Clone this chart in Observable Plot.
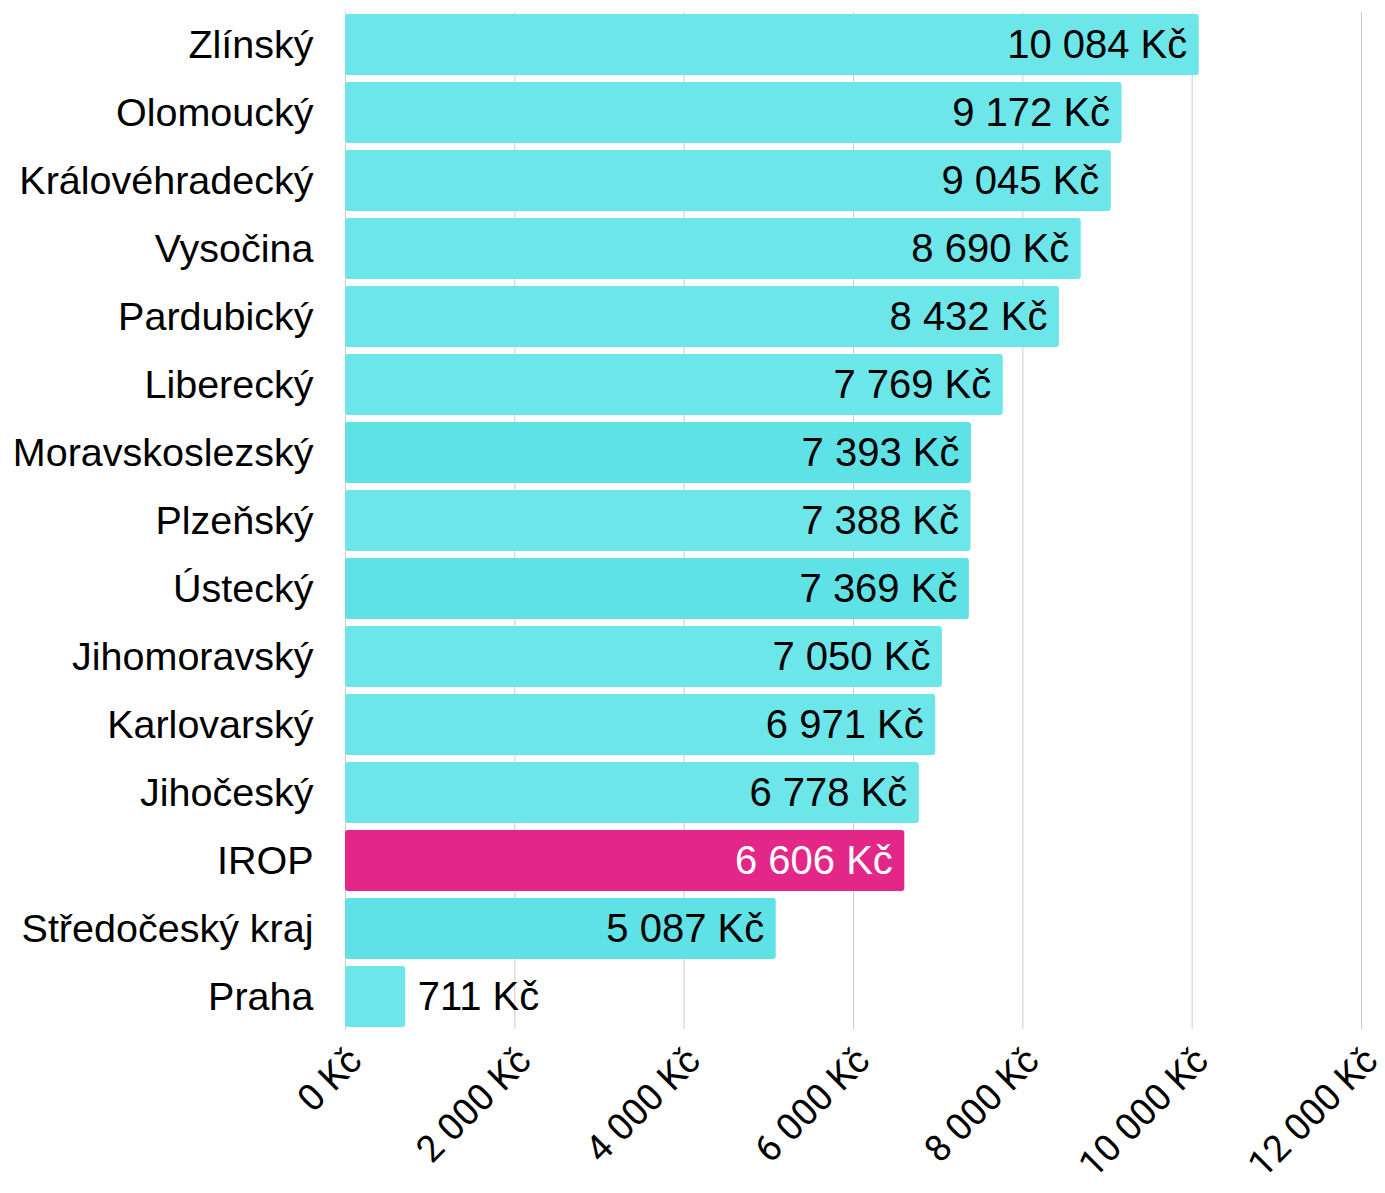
<!DOCTYPE html>
<html>
<head>
<meta charset="utf-8">
<script src="https://cdn.jsdelivr.net/npm/d3@7"></script>
<script src="https://cdn.jsdelivr.net/npm/@observablehq/plot@0.6"></script>
<style>
  html, body { margin: 0; padding: 0; background: #fff; }
  #chart svg { display: block; }
</style>
</head>
<body>
<div id="chart"></div>
<script>
const regions = ["Zlínský","Olomoucký","Královéhradecký","Vysočina","Pardubický","Liberecký","Moravskoslezský","Plzeňský","Ústecký","Jihomoravský","Karlovarský","Jihočeský","IROP","Středočeský kraj","Praha"];
const values = [10084, 9172, 9045, 8690, 8432, 7769, 7393, 7388, 7369, 7050, 6971, 6778, 6606, 5087, 711];
const groups = ["kraj","kraj","kraj","kraj","kraj","kraj","kraj2","kraj","kraj2","kraj","kraj","kraj","irop","kraj2","kraj"];
const xTicks = [0, 2000, 4000, 6000, 8000, 10000, 12000];

const data = regions.map((r, i) => ({region: r, value: values[i], group: groups[i]}));

const loc = d3.formatLocale({decimal: ",", thousands: " ", grouping: [3], currency: ["", " Kč"]});
const fmt = v => loc.format(",.0f")(v) + " Kč";

const fillOf = {kraj: "#6ce6e9", kraj2: "#5ee2e6", irop: "#e32789"};

const chart = Plot.plot({
  width: 1385,
  height: 1193,
  marginLeft: 345,
  marginRight: 24,
  marginTop: 12,
  marginBottom: 164,
  style: {fontFamily: "'Liberation Sans', Arial, sans-serif", background: "#fff"},
  x: {domain: [0, 12000], ticks: xTicks, tickFormat: fmt, label: null},
  y: {domain: regions, label: null, paddingInner: 0.11, paddingOuter: 0.01},
  marks: [
    Plot.ruleX(xTicks, {stroke: "#cccccc", strokeWidth: 1}),
    Plot.barX(data, {x: "value", y: "region", fill: d => fillOf[d.group], rx: 3}),
    Plot.text(data.filter(d => d.value >= 2000), {x: "value", y: "region", text: d => fmt(d.value), textAnchor: "end", dx: -12, fontSize: 40, fill: d => d.group === "irop" ? "#ffffff" : "#000000"}),
    Plot.text(data.filter(d => d.value < 2000), {x: "value", y: "region", text: d => fmt(d.value), textAnchor: "start", dx: 12, fontSize: 40, fill: "#000000"}),
    Plot.axisY({tickSize: 0, tickPadding: 32, fontSize: 39.5, label: null}),
    Plot.axisX({ticks: xTicks, tickFormat: fmt, tickRotate: -45, tickSize: 0, tickPadding: 24, dx: 10, dy: 1, fontSize: 37, label: null, fontFamily: "Roboto, sans-serif"})
  ]
});
document.getElementById("chart").appendChild(chart);
</script>
</body>
</html>
